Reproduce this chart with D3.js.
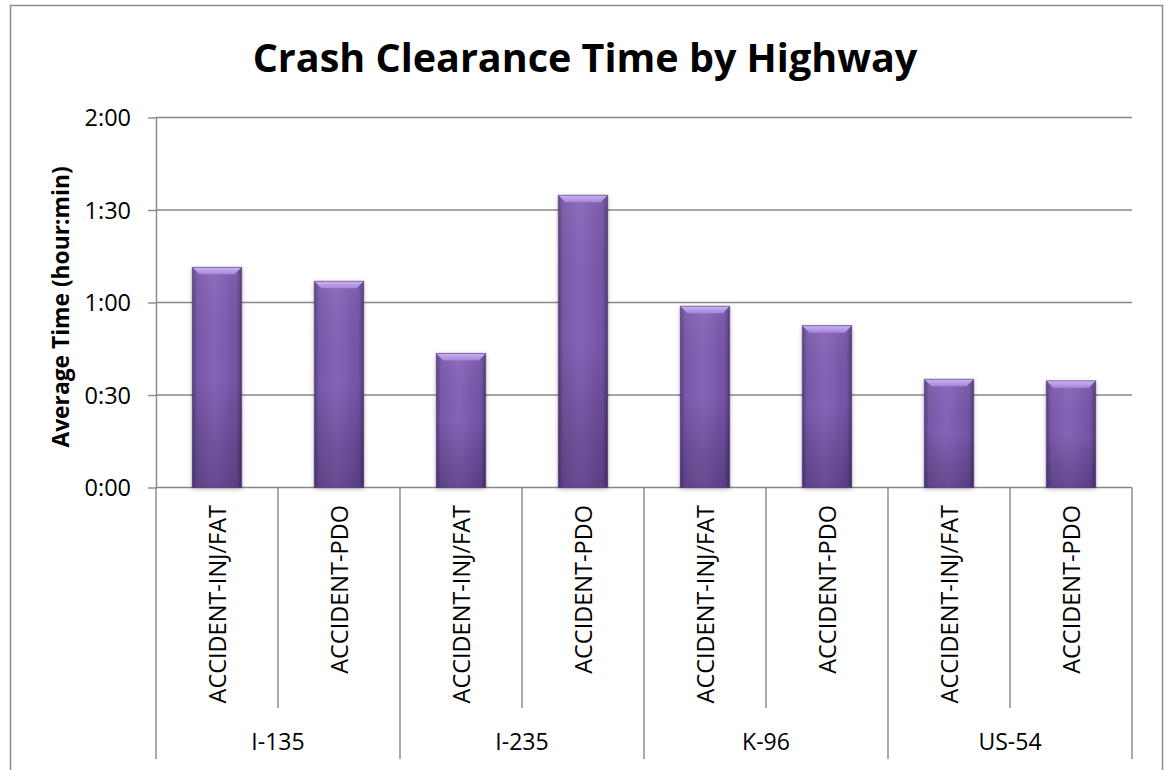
<!DOCTYPE html>
<html>
<head>
<meta charset="utf-8">
<script src="https://cdn.jsdelivr.net/npm/d3@7"></script>
<style>
  body { margin: 0; background: #fff; }
  text { font-family: "Open Sans", sans-serif; fill: #000; }
</style>
</head>
<body>
<div id="chart"></div>
<script>
// data (minutes)
const highways = ["I-135", "I-235", "K-96", "US-54"];
const crashTypes = ["ACCIDENT-INJ/FAT", "ACCIDENT-PDO"];
const injFatMinutes = [71.4, 43.5, 58.8, 35.1];
const pdoMinutes = [66.9, 94.8, 52.5, 34.6];
const yTicks = [0, 30, 60, 90, 120];

const width = 1165, height = 770;
const plot = {left: 156, right: 1132, top: 117.5, bottom: 487.5};
const gridColor = "#878787";

const rows = [];
highways.forEach((h, i) => {
    rows.push({highway: h, type: crashTypes[0], value: injFatMinutes[i]});
    rows.push({highway: h, type: crashTypes[1], value: pdoMinutes[i]});
});
const key = d => d.highway + "|" + d.type;

const svg = d3.select("#chart").append("svg")
    .attr("width", width)
    .attr("height", height);

svg.append("rect").attr("width", width).attr("height", height).attr("fill", "#fff");

// chart border (bottom edge is cut off in the reference)
svg.append("rect")
    .attr("x", 10.5).attr("y", 5.5)
    .attr("width", 1152).attr("height", 820)
    .attr("fill", "none")
    .attr("stroke", "#8c8c8c")
    .attr("stroke-width", 1.5);

const x = d3.scaleBand()
    .domain(rows.map(key))
    .range([plot.left, plot.right])
    .paddingInner(0.595)
    .paddingOuter(0.2975);

const xGroup = d3.scaleBand()
    .domain(highways)
    .range([plot.left, plot.right]);

const y = d3.scaleLinear()
    .domain([0, 120])
    .range([plot.bottom, plot.top]);

const fmt = m => Math.floor(m / 60) + ":" + String(m % 60).padStart(2, "0");

// defs: bar shading
const defs = svg.append("defs");
const body = defs.append("linearGradient").attr("id", "barBody")
    .attr("x1", 0).attr("x2", 1).attr("y1", 0).attr("y2", 0);
[[0, "#573d84"], [0.1, "#7958a8"], [0.45, "#8664b8"], [0.9, "#7352a4"], [1, "#4f3776"]]
    .forEach(([o, c]) => body.append("stop").attr("offset", o).attr("stop-color", c));

const shade = defs.append("linearGradient").attr("id", "barShade")
    .attr("x1", 0).attr("x2", 0).attr("y1", 0).attr("y2", 1);
[[0, "#fff", 0.06], [0.5, "#000", 0.0], [1, "#1a0a33", 0.28]]
    .forEach(([o, c, a]) => shade.append("stop").attr("offset", o).attr("stop-color", c).attr("stop-opacity", a));

const bevel = defs.append("linearGradient").attr("id", "barBevel")
    .attr("x1", 0).attr("x2", 0).attr("y1", 0).attr("y2", 1);
[[0, "#cbb3f4"], [1, "#a585d8"]]
    .forEach(([o, c]) => bevel.append("stop").attr("offset", o).attr("stop-color", c));

const shadow = defs.append("filter").attr("id", "barShadow")
    .attr("x", "-30%").attr("y", "-10%").attr("width", "160%").attr("height", "120%");
shadow.append("feDropShadow")
    .attr("dx", 0).attr("dy", 1.5)
    .attr("stdDeviation", 2.5)
    .attr("flood-color", "#000")
    .attr("flood-opacity", 0.28);

// gridlines
svg.append("g")
    .selectAll("line")
    .data(yTicks)
    .join("line")
    .attr("x1", plot.left).attr("x2", plot.right)
    .attr("y1", d => y(d)).attr("y2", d => y(d))
    .attr("stroke", gridColor)
    .attr("stroke-width", 1.4);

// y axis
const yAxis = svg.append("g")
    .attr("transform", `translate(${plot.left},0)`)
    .call(d3.axisLeft(y).tickValues(yTicks).tickFormat(fmt).tickSize(8).tickSizeOuter(0).tickPadding(17));
yAxis.select(".domain").attr("stroke", gridColor).attr("stroke-width", 1.4);
yAxis.selectAll(".tick line").attr("stroke", gridColor).attr("stroke-width", 1.4);
yAxis.selectAll(".tick text")
    .attr("font-family", "Open Sans")
    .attr("font-size", 23.5)
    .attr("fill", "#000")
    .attr("dy", "0.36em");

// bars
const bars = svg.append("g")
    .selectAll("g")
    .data(rows)
    .join("g")
    .attr("transform", d => `translate(${x(key(d))},${y(d.value)})`);

const bw = x.bandwidth();
const bev = 7;

bars.append("rect")
    .attr("width", bw)
    .attr("height", d => y(0) - y(d.value))
    .attr("fill", "url(#barBody)")
    .attr("filter", "url(#barShadow)");

bars.append("rect")
    .attr("width", bw)
    .attr("height", d => y(0) - y(d.value))
    .attr("fill", "url(#barShade)");

bars.append("path")
    .attr("d", `M0,0H${bw}L${bw - bev},${bev}H${bev}Z`)
    .attr("fill", "url(#barBevel)");

bars.append("rect")
    .attr("width", bw)
    .attr("height", d => y(0) - y(d.value))
    .attr("fill", "none")
    .attr("stroke", "#4a3470")
    .attr("stroke-opacity", 0.55)
    .attr("stroke-width", 1);

// category axis: dividers
const minorDividers = highways.map(h => x(h + "|" + crashTypes[1]) - x.step() * x.paddingInner() / 2);
svg.append("g")
    .selectAll("line")
    .data(minorDividers)
    .join("line")
    .attr("x1", d => d).attr("x2", d => d)
    .attr("y1", plot.bottom).attr("y2", 708)
    .attr("stroke", gridColor)
    .attr("stroke-width", 1.4);

const groupDividers = highways.map(h => xGroup(h)).concat([plot.right]);
svg.append("g")
    .selectAll("line")
    .data(groupDividers)
    .join("line")
    .attr("x1", d => d).attr("x2", d => d)
    .attr("y1", plot.bottom).attr("y2", 759)
    .attr("stroke", gridColor)
    .attr("stroke-width", 1.4);

// category labels (rotated)
svg.append("g")
    .selectAll("text")
    .data(rows)
    .join("text")
    .attr("transform", d => `translate(${x(key(d)) + bw / 2 + 8.5},505) rotate(-90)`)
    .attr("text-anchor", "end")
    .attr("font-size", 23.5)
    .text(d => d.type);

// highway labels
svg.append("g")
    .selectAll("text")
    .data(highways)
    .join("text")
    .attr("x", d => xGroup(d) + xGroup.bandwidth() / 2)
    .attr("y", 750)
    .attr("text-anchor", "middle")
    .attr("font-size", 23)
    .text(d => d);

// y title
svg.append("text")
    .attr("transform", "translate(68.5,307) rotate(-90)")
    .attr("text-anchor", "middle")
    .attr("font-weight", "bold")
    .attr("font-size", 22.8)
    .text("Average Time (hour:min)");

// title
svg.append("text")
    .attr("x", 585)
    .attr("y", 72)
    .attr("text-anchor", "middle")
    .attr("font-weight", "bold")
    .attr("font-size", 39.5)
    .text("Crash Clearance Time by Highway");
</script>
</body>
</html>
